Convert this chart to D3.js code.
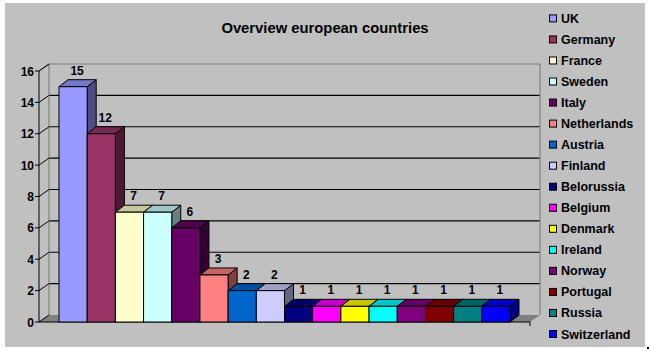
<!DOCTYPE html>
<html>
<head>
<meta charset="utf-8">
<script src="https://cdn.jsdelivr.net/npm/d3@7"></script>
<style>
  body { margin: 0; background: #fff; }
  text { font-family: Arial, "Liberation Sans", sans-serif; }
</style>
</head>
<body>
<div id="chart"></div>
<script>
// data
var countries = ["UK","Germany","France","Sweden","Italy","Netherlands","Austria","Finland",
  "Belorussia","Belgium","Denmark","Ireland","Norway","Portugal","Russia","Switzerland"];
var counts = [15,12,7,7,6,3,2,2,1,1,1,1,1,1,1,1];
var colors = ["#9999FF","#993366","#FFFFCC","#CCFFFF","#660066","#FF8080","#0066CC","#CCCCFF",
  "#000080","#FF00FF","#FFFF00","#00FFFF","#800080","#800000","#008080","#0000FF"];
var yTicks = [0,2,4,6,8,10,12,14,16];
var title = "Overview european countries";

var width = 650, height = 351;
var dx = 10, dy = -7;     // depth of walls
var bdx = 9, bdy = -7;    // depth of bars

var svg = d3.select("#chart").append("svg")
  .attr("width", width).attr("height", height);

svg.append("rect").attr("x", 5).attr("y", 3).attr("width", 640).attr("height", 344)
  .attr("fill", "#C0C0C0");
svg.append("rect").attr("x", 647).attr("y", 347).attr("width", 2).attr("height", 2).attr("fill", "#000");

svg.append("text").attr("x", 325).attr("y", 33).attr("text-anchor", "middle")
  .style("font-size", "14.8px").style("font-weight", "bold").text(title);

var y = d3.scaleLinear().domain([0, 16]).range([322, 71]);
var x = d3.scaleBand().domain(countries).range([59, 510]).paddingInner(0);
var x0 = 39, x1 = 530;

// floor
svg.append("path")
  .attr("d", "M" + x0 + "," + y(0) + "L" + (x0 + dx) + "," + (y(0) + dy) +
    "L" + (x1 + dx) + "," + (y(0) + dy) + "L" + x1 + "," + y(0) + "Z")
  .attr("fill", "#808080");

// back wall gridlines
svg.selectAll(".grid").data(yTicks.filter(function(d) { return d > 0 && d < 16; }))
  .enter().append("line")
  .attr("x1", x0 + dx).attr("x2", x1 + dx)
  .attr("y1", function(d) { return y(d) + dy; }).attr("y2", function(d) { return y(d) + dy; })
  .attr("stroke", "#000").attr("stroke-width", 1.2);

// wall edges
var wall = "M" + x0 + "," + y(16) + "L" + (x0 + dx) + "," + (y(16) + dy) +
  "L" + (x1 + dx) + "," + (y(16) + dy) + "L" + (x1 + dx) + "," + (y(0) + dy) +
  "M" + (x0 + dx) + "," + (y(16) + dy) + "L" + (x0 + dx) + "," + (y(0) + dy);
svg.append("path").attr("d", wall).attr("fill", "none").attr("stroke", "#808080").attr("stroke-width", 1.2);

// side wall gridlines
svg.selectAll(".sgrid").data(yTicks).enter().append("line")
  .attr("x1", x0).attr("x2", x0 + dx)
  .attr("y1", function(d) { return y(d); }).attr("y2", function(d) { return y(d) + dy; })
  .attr("stroke", "#000");

// axes
svg.append("line").attr("x1", x0).attr("x2", x0).attr("y1", y(16)).attr("y2", y(0)).attr("stroke", "#000");
svg.append("line").attr("x1", x0).attr("x2", x1).attr("y1", y(0)).attr("y2", y(0)).attr("stroke", "#000");
svg.append("line").attr("x1", x1).attr("x2", x1).attr("y1", y(0)).attr("y2", y(0) + 4).attr("stroke", "#000");
svg.selectAll(".tick").data(yTicks).enter().append("line")
  .attr("x1", x0 - 4).attr("x2", x0)
  .attr("y1", function(d) { return y(d); }).attr("y2", function(d) { return y(d); })
  .attr("stroke", "#000");
svg.selectAll(".tlab").data(yTicks).enter().append("text")
  .attr("x", 34).attr("y", function(d) { return y(d) + 4.5; })
  .attr("text-anchor", "end").style("font-size", "12px").style("font-weight", "bold")
  .text(function(d) { return d; });

function shade(c, k) {
  var r = d3.rgb(c);
  return d3.rgb(r.r * k, r.g * k, r.b * k).formatHex();
}

// bars
var bars = svg.selectAll(".bar").data(countries).enter().append("g");
bars.append("path")
  .attr("d", function(d, i) {
    var r = x(d) + x.bandwidth(), t = y(counts[i]), b = y(0);
    return "M" + r + "," + b + "L" + (r + bdx) + "," + (b + bdy) + "L" + (r + bdx) + "," + (t + bdy) + "L" + r + "," + t + "Z";
  })
  .attr("fill", function(d, i) { return shade(colors[i], 0.5); })
  .attr("stroke", "#000").attr("stroke-linejoin", "round");
bars.append("path")
  .attr("d", function(d, i) {
    var l = x(d), r = x(d) + x.bandwidth(), t = y(counts[i]);
    return "M" + l + "," + t + "L" + (l + bdx) + "," + (t + bdy) + "L" + (r + bdx) + "," + (t + bdy) + "L" + r + "," + t + "Z";
  })
  .attr("fill", function(d, i) { return shade(colors[i], 0.78); })
  .attr("stroke", "#000").attr("stroke-linejoin", "round");
bars.append("rect")
  .attr("x", function(d) { return x(d); })
  .attr("y", function(d, i) { return y(counts[i]); })
  .attr("width", x.bandwidth())
  .attr("height", function(d, i) { return y(0) - y(counts[i]); })
  .attr("fill", function(d, i) { return colors[i]; })
  .attr("stroke", "#000");

bars.append("text")
  .attr("x", function(d) { return x(d) + x.bandwidth() / 2 + 4; })
  .attr("y", function(d, i) { return y(counts[i]) - 12; })
  .attr("text-anchor", "middle").style("font-size", "12px").style("font-weight", "bold")
  .text(function(d, i) { return counts[i]; });

// legend
var leg = svg.selectAll(".leg").data(countries).enter().append("g")
  .attr("transform", function(d, i) { return "translate(549," + (18.4 + i * 21.04) + ")"; });
leg.append("rect").attr("x", 0.5).attr("y", -3.5).attr("width", 7).attr("height", 7)
  .attr("fill", function(d, i) { return colors[i]; }).attr("stroke", "#000");
leg.append("text").attr("x", 12).attr("y", 4.5)
  .style("font-size", "12.5px").style("font-weight", "bold")
  .text(function(d) { return d; });
</script>
</body>
</html>
